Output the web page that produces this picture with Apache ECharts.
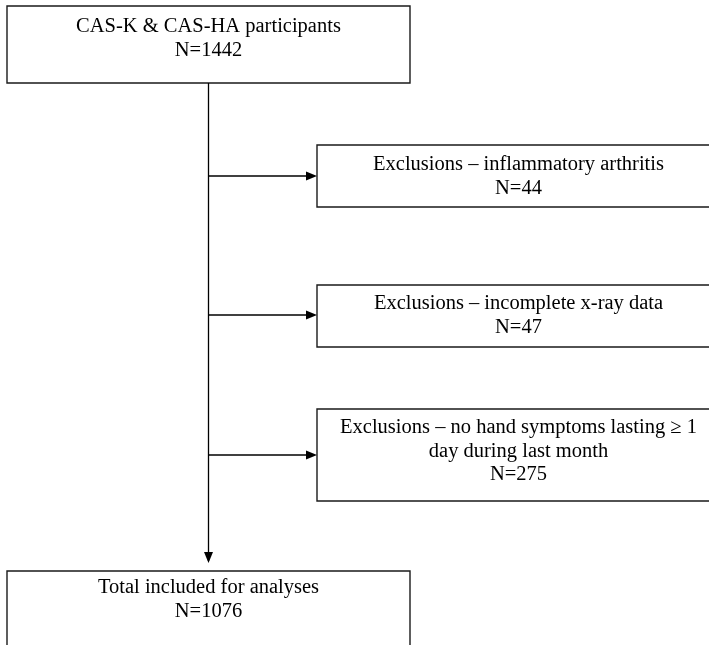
<!DOCTYPE html>
<html>
<head>
<meta charset="utf-8">
<script src="https://cdn.jsdelivr.net/npm/echarts@6/dist/echarts.min.js"></script>
<style>
html, body { margin: 0; padding: 0; background: #fff; }
#main { width: 709px; height: 645px; }
</style>
</head>
<body>
<div id="main"></div>
<script>
// flow steps: label lines and counts
var stepLabels = [
  ['CAS-K & CAS-HA participants'],
  ['Exclusions – inflammatory arthritis'],
  ['Exclusions – incomplete x-ray data'],
  ['Exclusions – no hand symptoms lasting ≥ 1', 'day during last month'],
  ['Total included for analyses']
];
var stepCounts = [1442, 44, 47, 275, 1076];

// layout: box [x, y, w, h], y of first text line
var boxes = [
  [7, 6, 403, 77],
  [317, 145, 403, 62],
  [317, 285, 403, 62],
  [317, 409, 403, 92],
  [7, 571, 403, 80]
];
var firstLine = [27, 165, 304, 428, 588];
var lineGap = 23.5;
var trunkX = 208.5;
var branchY = [176, 315, 455];

var myChart = echarts.init(document.getElementById('main'));
var elements = [];
var font = '20.5px "Liberation Serif", "Times New Roman", serif';

boxes.forEach(function (b, i) {
  elements.push({
    type: 'rect',
    shape: { x: b[0], y: b[1], width: b[2], height: b[3] },
    style: { fill: '#fff', stroke: '#1a1a1a', lineWidth: 1.4 }
  });
  var lines = stepLabels[i].concat(['N=' + stepCounts[i]]);
  lines.forEach(function (t, j) {
    elements.push({
      type: 'text',
      x: b[0] + b[2] / 2,
      y: firstLine[i] + j * lineGap,
      style: {
        text: t, font: font, fill: '#000',
        align: 'center', verticalAlign: 'middle'
      }
    });
  });
});

// trunk line with arrow to the bottom box
elements.push({
  type: 'line',
  shape: { x1: trunkX, y1: boxes[0][1] + boxes[0][3], x2: trunkX, y2: boxes[4][1] - 10 },
  style: { stroke: '#000', lineWidth: 1.3 }
});
elements.push({
  type: 'polygon',
  shape: { points: [[trunkX - 4.5, boxes[4][1] - 19], [trunkX + 4.5, boxes[4][1] - 19], [trunkX, boxes[4][1] - 8]] },
  style: { fill: '#000' }
});

// branches to exclusion boxes
branchY.forEach(function (y, k) {
  var tx = boxes[k + 1][0];
  elements.push({
    type: 'line',
    shape: { x1: trunkX, y1: y, x2: tx - 10, y2: y },
    style: { stroke: '#000', lineWidth: 1.3 }
  });
  elements.push({
    type: 'polygon',
    shape: { points: [[tx - 11, y - 4.5], [tx - 11, y + 4.5], [tx, y]] },
    style: { fill: '#000' }
  });
});

option = {
  backgroundColor: '#fff',
  animation: false,
  graphic: { elements: elements }
};
myChart.setOption(option);
</script>
</body>
</html>
